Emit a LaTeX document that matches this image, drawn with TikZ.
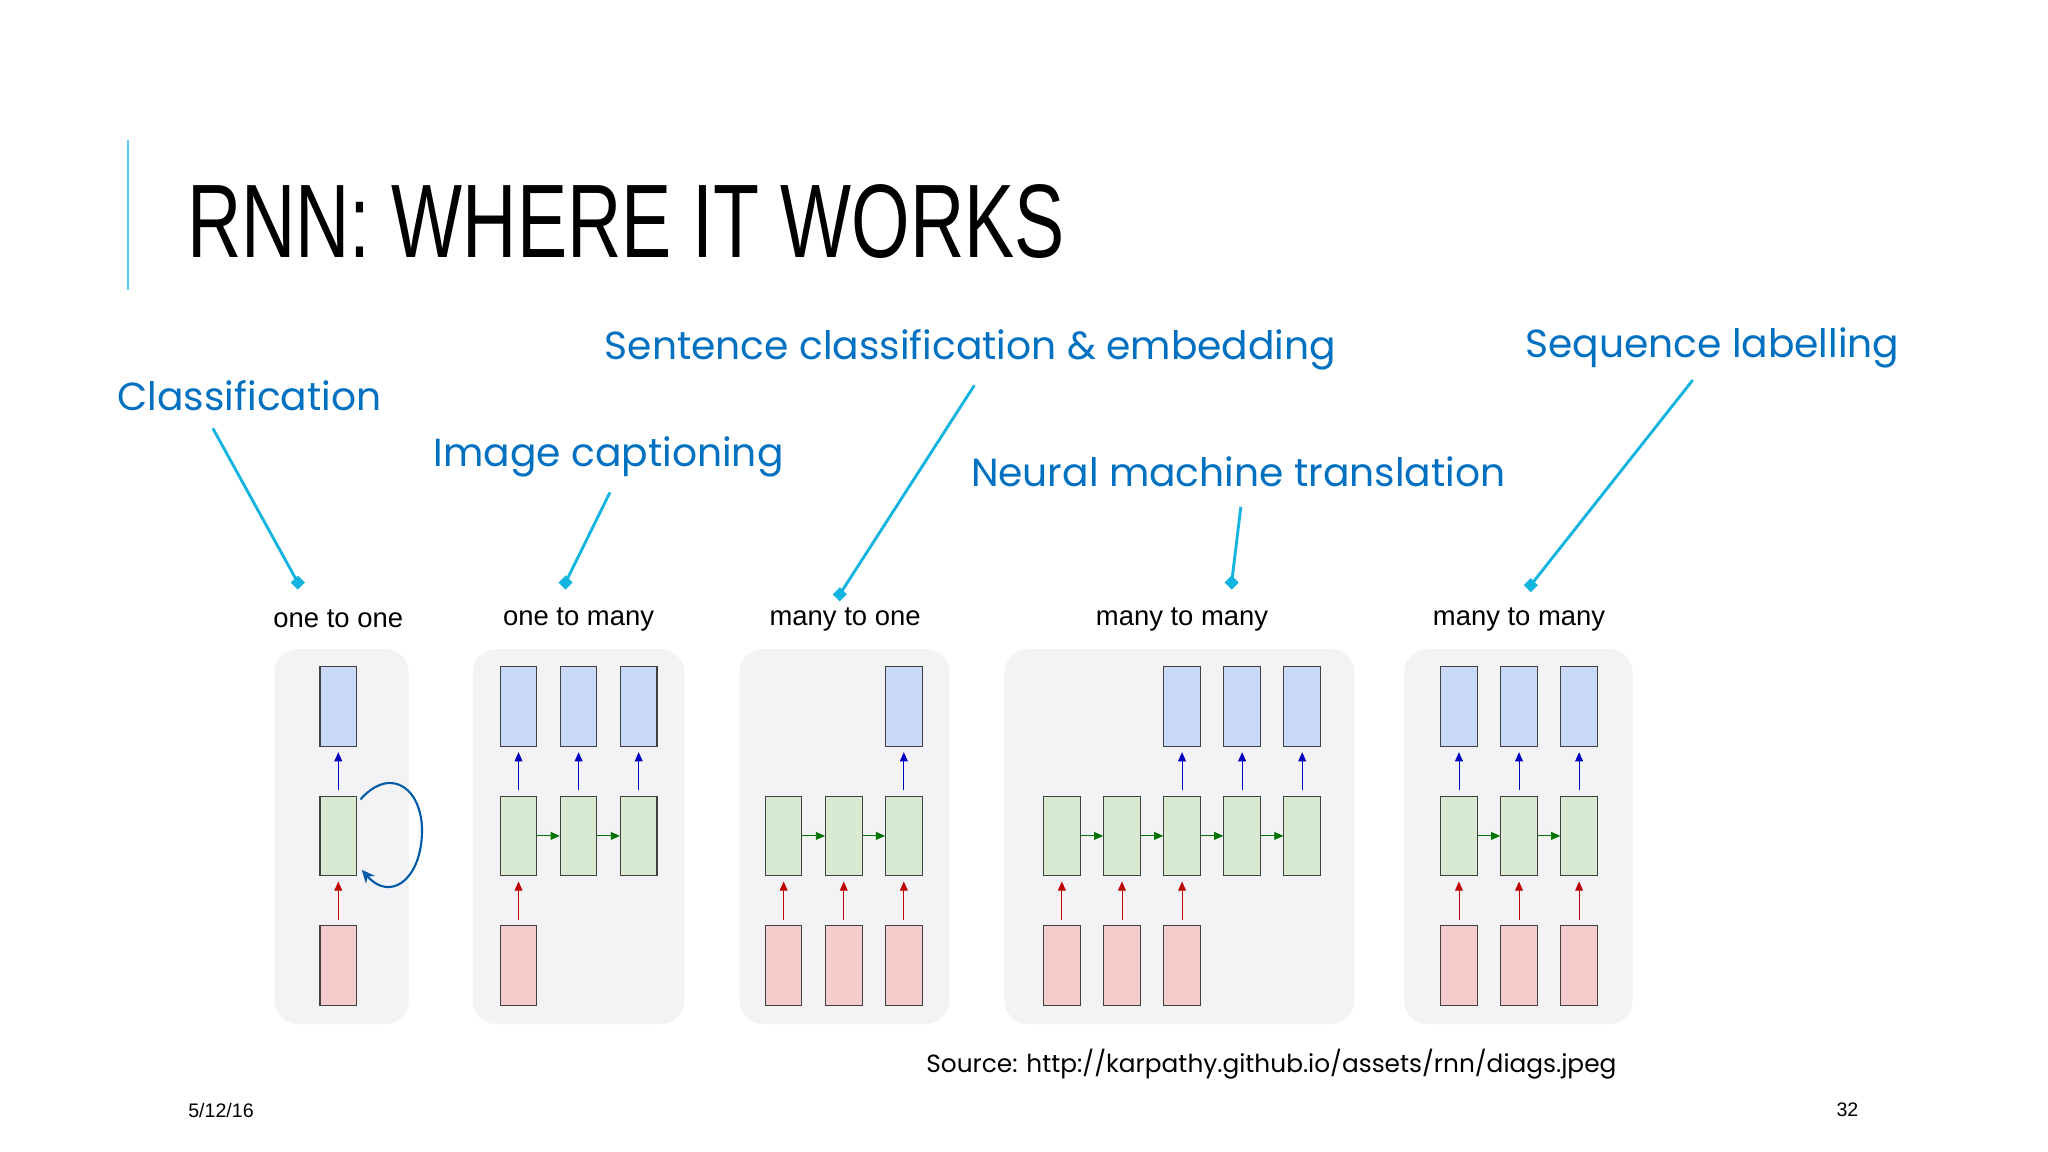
\documentclass[tikz,border=0pt]{standalone}
\usepackage{fontspec}
\setmainfont{Liberation Sans}
\newfontfamily\titlef{Liberation Sans}[FakeStretch=0.72]
\newfontfamily\labf{Poppins}
\usetikzlibrary{arrows.meta,shapes.geometric,calc}
\definecolor{lblue}{RGB}{0,112,192}
\definecolor{ptr}{RGB}{20,180,225}
\definecolor{bfill}{RGB}{201,218,248}
\definecolor{gfill}{RGB}{217,234,211}
\definecolor{rfill}{RGB}{244,204,204}
\definecolor{panel}{RGB}{243,243,245}
\begin{document}
\begin{tikzpicture}[x=1pt,y=-1pt,
 lab/.style={text=lblue,font=\labf\fontsize{30}{34}\selectfont,inner sep=0},
 ptrl/.style={draw=ptr,line width=2.2pt},
 dmk/.style={diamond,fill=ptr,minimum size=11pt,inner sep=0},
 pan/.style={fill=panel,rounded corners=18pt},
 cell/.style={draw=black!75,line width=0.8pt,minimum width=28pt,minimum height=61pt,inner sep=0},
 bc/.style={cell,fill=bfill}, gc/.style={cell,fill=gfill}, rc/.style={cell,fill=rfill},
 cp/.style={font=\fontsize{21}{24}\selectfont,inner sep=0},
 ua/.style={-{Triangle[length=7pt,width=6pt]},line width=0.7pt,draw=#1,shorten <=4pt,shorten >=4pt},
 ga/.style={-{Triangle[length=7pt,width=6pt]},line width=0.7pt,draw=green!45!black}]
\useasboundingbox[fill=white] (0,0) rectangle (1568,882);
\draw[draw=ptr!70,line width=2pt] (98,107) -- (98,222);
\node[anchor=base west,inner sep=0,font=\titlef\fontsize{80}{84}\selectfont] (title) at (143,197) {RNN: WHERE IT WORKS};
% labels
\node[lab] (l1) at (191,303) {Classification};
\node[lab] (l2) at (466,350) {Image captioning};
\node[lab] (l3) at (743,268) {Sentence classification \& embedding};
\node[lab] (l4) at (948,361) {Neural machine translation};
\node[lab] (l5) at (1311,266) {Sequence labelling};
\node[dmk] (m1) at (228,446) {}; \node[dmk] (m2) at (433,446) {};
\node[dmk] (m3) at (643,455) {}; \node[dmk] (m4) at (943,446) {};
\node[dmk] (m5) at (1172,448) {};
\coordinate (p1) at (163,328); \coordinate (p2) at (467,377); \coordinate (p3) at (746,295);
\coordinate (p4) at (950,388); \coordinate (p5) at (1296,291);
\draw[ptrl] (p1) -- (m1.center); \draw[ptrl] (p2) -- (m2.center); \draw[ptrl] (p3) -- (m3.center);
\draw[ptrl] (p4) -- (m4.center); \draw[ptrl] (p5) -- (m5.center);
% panels
\fill[pan] (210,497) rectangle (313,784);
\fill[pan] (362,497) rectangle (524,784);
\fill[pan] (566,497) rectangle (727,784);
\fill[pan] (769,497) rectangle (1037,784);
\fill[pan] (1075,497) rectangle (1250,784);
\node[cp] (c1) at (259,474) {one to one};
\node[cp] (c2) at (443,474) {one to many};
\node[cp] (c3) at (647,474) {many to one};
\node[cp] (c4) at (905,474) {many to many};
\node[cp] (c5) at (1163,474) {many to many};
% one to one
\node[bc] (a1b) at (259,541) {}; \node[gc] (a1g) at (259,640) {}; \node[rc] (a1r) at (259,739) {};
\draw[ua=blue!75!black] (a1g) -- (a1b); \draw[ua=red!75!black] (a1r) -- (a1g);
\draw[draw=teal!70!blue,line width=1.6pt,-{Stealth[length=10pt,width=9pt,open]}] (276,612) .. controls (300,585) and (325,605) .. (323,640) .. controls (321,675) and (298,690) .. (277,666);
% one to many
\foreach \i/\x in {1/397,2/443,3/489}{
 \node[bc] (b\i b) at (\x,541) {}; \node[gc] (b\i g) at (\x,640) {};
 \draw[ua=blue!75!black] (b\i g) -- (b\i b);}
\node[rc] (b1r) at (397,739) {}; \draw[ua=red!75!black] (b1r) -- (b1g);
\draw[ga] (b1g) -- (b2g); \draw[ga] (b2g) -- (b3g);
% many to one
\foreach \i/\x in {1/600,2/646,3/692}{
 \node[gc] (c\i g) at (\x,640) {}; \node[rc] (c\i r) at (\x,739) {};
 \draw[ua=red!75!black] (c\i r) -- (c\i g);}
\node[bc] (c3b) at (692,541) {}; \draw[ua=blue!75!black] (c3g) -- (c3b);
\draw[ga] (c1g) -- (c2g); \draw[ga] (c2g) -- (c3g);
% many to many 1
\foreach \i/\x in {1/813,2/859,3/905,4/951,5/997}{ \node[gc] (d\i g) at (\x,640) {}; }
\foreach \i in {1,2,3}{ \node[rc] (d\i r) at ($(d\i g)+(0,99)$) {}; }
\foreach \i in {3,4,5}{ \node[bc] (d\i b) at ($(d\i g)+(0,-99)$) {}; \draw[ua=blue!75!black] (d\i g) -- (d\i b);}
\foreach \i in {1,2,3}{ \draw[ua=red!75!black] (d\i r) -- (d\i g);}
\foreach \i/\j in {1/2,2/3,3/4,4/5}{ \draw[ga] (d\i g) -- (d\j g);}
% many to many 2
\foreach \i/\x in {1/1117,2/1163,3/1209}{
 \node[bc] (e\i b) at (\x,541) {}; \node[gc] (e\i g) at (\x,640) {}; \node[rc] (e\i r) at (\x,739) {};
 \draw[ua=blue!75!black] (e\i g) -- (e\i b); \draw[ua=red!75!black] (e\i r) -- (e\i g);}
\draw[ga] (e1g) -- (e2g); \draw[ga] (e2g) -- (e3g);
% footer
\node[anchor=west,inner sep=0,font=\labf\fontsize{19}{22}\selectfont] (src) at (709,815) {Source: http://karpathy.github.io/assets/rnn/diags.jpeg};
\node[anchor=west,inner sep=0,font=\fontsize{15}{18}\selectfont] (date) at (144,850) {5/12/16};
\node[anchor=east,inner sep=0,font=\fontsize{15}{18}\selectfont] (pg) at (1423,850) {32};
\end{tikzpicture}
\end{document}
